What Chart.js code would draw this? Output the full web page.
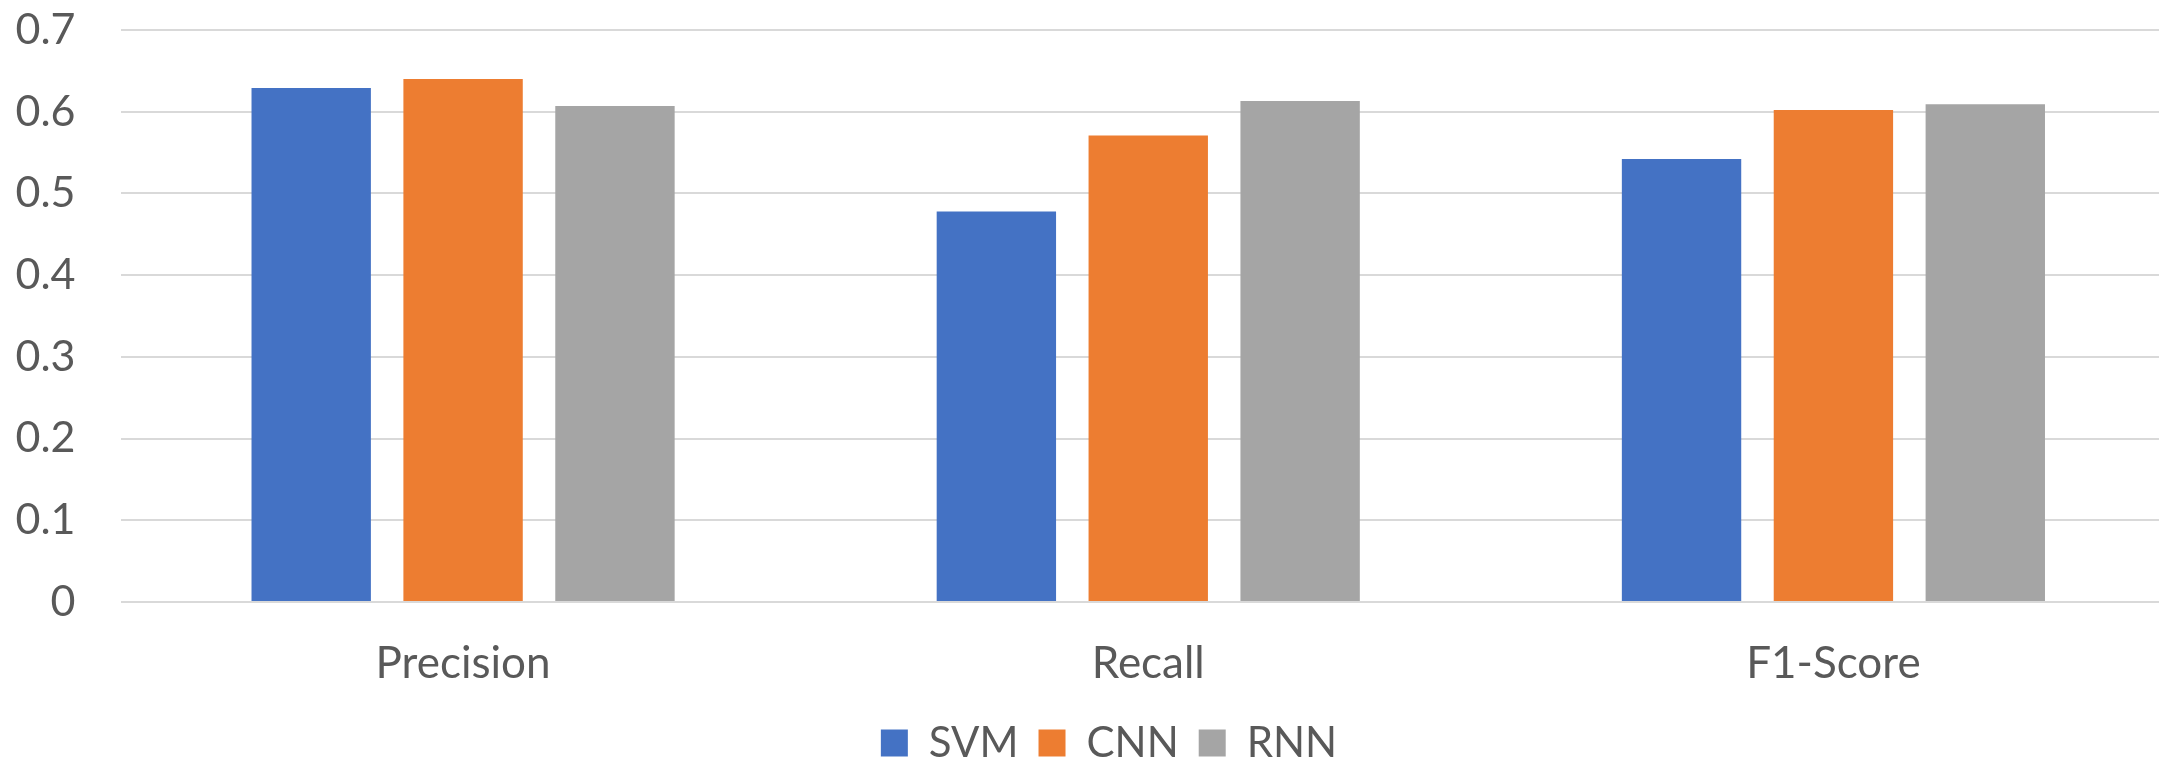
<!DOCTYPE html>
<html>
<head>
<meta charset="utf-8">
<script src="https://cdn.jsdelivr.net/npm/chart.js@4/dist/chart.umd.min.js"></script>
<style>
  html, body { margin: 0; padding: 0; background: #ffffff; overflow: hidden; }
  #wrap { position: relative; width: 2218px; height: 774px; }
</style>
</head>
<body>
<div id="wrap"><canvas id="chart"></canvas></div>
<script>
// Metric categories along the x axis
const categories = ['Precision', 'Recall', 'F1-Score'];

// Scores per model
const svmScores = [0.629, 0.478, 0.542];
const cnnScores = [0.640, 0.571, 0.602];
const rnnScores = [0.607, 0.613, 0.609];

// Value axis tick labels
const yTickLabels = ['0', '0.1', '0.2', '0.3', '0.4', '0.5', '0.6', '0.7'];

const textColor = '#595959';
const gridColor = '#d9d9d9';
const fontFamily = 'Lato, "Open Sans", sans-serif';

new Chart(document.getElementById('chart'), {
  type: 'bar',
  data: {
    labels: categories,
    datasets: [
      { label: 'SVM', data: svmScores, backgroundColor: '#4472C4' },
      { label: 'CNN', data: cnnScores, backgroundColor: '#ED7D31' },
      { label: 'RNN', data: rnnScores, backgroundColor: '#A5A5A5' }
    ]
  },
  options: {
    responsive: true,
    maintainAspectRatio: false,
    animation: false,
    categoryPercentage: 0.665,
    barPercentage: 0.786,
    layout: { padding: { top: 30, right: 0, left: 0, bottom: 0 } },
    plugins: {
      tooltip: { enabled: false },
      legend: {
        position: 'bottom',
        labels: {
          boxWidth: 27,
          boxHeight: 27,
          padding: 20,
          color: textColor,
          font: { family: fontFamily, size: 42 }
        }
      }
    },
    scales: {
      x: {
        grid: { display: false },
        border: { display: false },
        ticks: {
          color: textColor,
          padding: 27,
          font: { family: fontFamily, size: 44 }
        },
        // fixed band for the category labels; keep the plot clear of the right edge
        afterFit(scale) { scale.height = 100; scale.paddingLeft = 0; scale.paddingRight = 42; }
      },
      y: {
        min: 0,
        max: 0.7,
        border: { display: false },
        grid: { color: gridColor, lineWidth: 2, drawTicks: false },
        ticks: {
          stepSize: 0.1,
          padding: 45,
          color: textColor,
          font: { family: fontFamily, size: 43 },
          callback: (value, index) => yTickLabels[index]
        },
        afterFit(scale) { scale.width = 120.5; scale.paddingTop = 0; scale.paddingBottom = 0; }
      }
    }
  }
});
</script>
</body>
</html>
